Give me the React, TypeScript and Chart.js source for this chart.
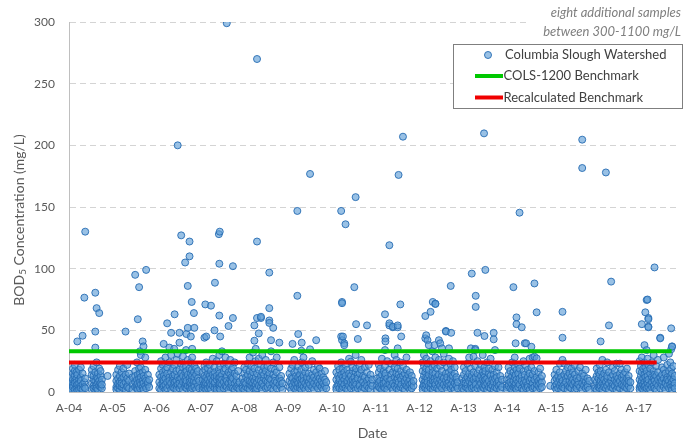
import { useEffect, useRef } from 'react';
import { Chart, registerables } from 'chart.js';

Chart.register(...registerables);

// ---------- labels ----------
const tickLabels = ['A-04', 'A-05', 'A-06', 'A-07', 'A-08', 'A-09', 'A-10', 'A-11', 'A-12', 'A-13', 'A-14', 'A-15', 'A-16', 'A-17'];
const firstYear = 2004;
const axisMaxYear = 2017.85;
const yTitleMain = 'BOD';
const yTitleSub = '5';
const yTitleRest = ' Concentration (mg/L)';
const xTitle = 'Date';
const noteLines = ['eight additional samples', 'between 300-1100 mg/L'];
const seriesLabels = ['Columbia Slough Watershed', 'COLS-1200 Benchmark', 'Recalculated Benchmark'];

// ---------- benchmarks ----------
const cols1200Value = 33;
const cols1200Range = [2004.0, 2017.75];
const recalcValue = 24;
const recalcRange = [2004.0, 2017.41];

// ---------- samples: each event = [offset within year, ...BOD5 values (mg/L)] ----------
const wy2004 = [
  [0.00, 5.6, 2], [0.05, 3, 8, 12, 1], [0.09, 6, 15, 19, 4, 10], [0.13, 2, 9, 17, 7, 13, 22],
  [0.17, 5, 11, 3, 16, 8], [0.19, 41, 14, 6, 1], [0.23, 4, 10, 18, 2, 7], [0.27, 12, 5, 9, 20, 3],
  [0.31, 45.6, 15, 6, 2], [0.35, 76.5, 8, 4], [0.37, 130, 11, 3], [0.52, 7, 14, 2, 18],
  [0.56, 5, 10, 21, 3, 13], [0.60, 80.5, 49, 36, 9, 16, 4, 1], [0.63, 68, 12, 6, 24, 3],
  [0.66, 8, 15, 2, 11], [0.69, 64, 19, 5, 9], [0.72, 4, 13, 7, 17], [0.75, 10, 3, 6], [0.88, 13],
];
const wy2005 = [
  [0.08, 4, 9, 14, 2], [0.12, 6, 18, 11, 3, 7], [0.16, 2, 13, 8, 21, 5], [0.20, 10, 4, 16, 7],
  [0.24, 3, 12, 19, 6], [0.29, 49, 8, 14, 2], [0.33, 5, 11, 22, 4], [0.37, 9, 3, 15], [0.45, 6, 12, 2],
  [0.51, 95, 8, 17, 4, 13], [0.55, 3, 10, 24, 6], [0.57, 59, 14, 7, 2], [0.60, 85, 11, 19, 5],
  [0.62, 33, 8, 3, 15], [0.64, 30, 12, 6, 20], [0.68, 41, 9, 4, 16], [0.70, 37, 7, 13, 2],
  [0.74, 28, 5, 11, 18], [0.76, 99, 9, 3], [0.80, 6, 14, 8], [0.83, 4, 10],
];
const wy2006 = [
  [0.06, 3, 8, 14], [0.10, 6, 12, 19, 2, 25], [0.14, 4, 10, 16, 22, 7], [0.16, 39, 13, 5, 9],
  [0.20, 2, 11, 18, 28, 6], [0.24, 55.7, 15, 8, 3, 20], [0.29, 36, 12, 5, 24, 9], [0.33, 48, 7, 16, 2, 30],
  [0.37, 10, 4, 19, 13], [0.40, 35, 6, 11, 22, 3], [0.41, 63, 14, 8], [0.45, 5, 17, 9, 26, 2],
  [0.48, 200, 12, 6, 31], [0.52, 48, 40, 10, 3, 18, 7], [0.56, 127, 15, 5, 23, 11], [0.60, 8, 2, 13, 20, 29],
  [0.65, 105, 6, 16, 10, 4], [0.67, 34, 12, 21, 7], [0.68, 47, 3, 9, 17], [0.71, 86, 52, 14, 5, 26],
  [0.75, 122, 110, 11, 4, 19, 8], [0.78, 45, 7, 15, 2, 24], [0.80, 73, 10, 18, 5], [0.81, 35, 13, 3, 28],
  [0.85, 64, 6, 16, 9], [0.86, 52, 12, 4, 21], [0.90, 8, 14, 2, 19], [0.94, 5, 11, 17], [0.97, 3, 9],
];
const wy2007 = [
  [0.05, 4, 10, 16, 2], [0.09, 44, 7, 13, 21, 3], [0.11, 71, 9, 18, 5], [0.13, 45, 12, 2, 24, 7],
  [0.17, 6, 15, 10, 3, 19], [0.21, 8, 4, 22, 13], [0.24, 70, 11, 17, 6, 2], [0.28, 5, 14, 9, 27],
  [0.32, 50, 3, 12, 20, 7], [0.33, 88.6, 16, 8], [0.37, 4, 10, 25, 13, 2], [0.42, 128, 18, 6, 11],
  [0.43, 104, 62, 3, 15, 30], [0.44, 130, 9, 5], [0.45, 45, 12, 21, 7, 2], [0.49, 6, 14, 10, 33],
  [0.53, 3, 17, 8, 23], [0.57, 11, 5, 19, 28], [0.60, 299, 13, 4, 9], [0.64, 53.5, 7, 16, 2, 22],
  [0.68, 10, 4, 14, 26], [0.71, 5, 12, 18, 8], [0.74, 102, 60, 3, 11, 20], [0.78, 7, 15, 2, 24],
  [0.82, 9, 4, 13], [0.86, 6, 17, 3], [0.89, 8, 2],
];
const wy2008 = [
  [-0.04, 5, 11, 3], [0.00, 8, 15, 2, 20], [0.04, 4, 12, 18, 7], [0.08, 10, 3, 23, 14],
  [0.12, 6, 17, 9, 2, 28], [0.16, 13, 5, 21, 8], [0.20, 3, 11, 16, 32, 7], [0.23, 54, 41.6, 9, 4, 19],
  [0.26, 12, 6, 25, 2, 35], [0.29, 270, 122, 60, 15, 8, 3], [0.33, 47.5, 10, 18, 5, 27],
  [0.38, 60, 61, 13, 4, 22, 9], [0.41, 7, 16, 2, 30], [0.45, 11, 5, 20, 14], [0.49, 3, 9, 17, 26],
  [0.53, 8, 13, 4, 21], [0.57, 96.8, 68, 58, 56, 6, 15, 11], [0.61, 42, 10, 3, 19, 33],
  [0.66, 52, 7, 14, 24, 2], [0.70, 5, 12, 18, 9], [0.74, 3, 16, 8, 28], [0.80, 40, 11, 6, 20],
  [0.84, 4, 13, 9], [0.87, 7, 2],
];
const wy2009 = [
  [0.03, 4, 9, 15], [0.07, 7, 2, 12, 19], [0.10, 39, 5, 11, 22], [0.14, 3, 8, 16, 26],
  [0.18, 10, 6, 13, 2], [0.21, 146.8, 78, 4, 17, 9], [0.23, 47, 12, 7, 21], [0.27, 5, 14, 3, 10],
  [0.30, 33.5, 8, 18, 2], [0.31, 40, 11, 6, 24], [0.35, 28, 4, 13, 9], [0.39, 7, 16, 2, 20],
  [0.43, 10, 5, 12], [0.47, 3, 8, 15, 22], [0.50, 176.8, 34.6, 6, 11], [0.55, 25, 9, 4, 14],
  [0.59, 7, 18, 2, 12], [0.64, 42, 5, 10, 16], [0.68, 3, 13, 8, 21], [0.72, 6, 11, 19],
  [0.76, 9, 4, 15], [0.80, 2, 12, 7], [0.84, 5, 10, 17], [0.87, 3, 8],
];
const wy2010 = [
  [0.10, 4, 10, 16, 2], [0.14, 7, 13, 21, 5], [0.17, 3, 9, 18, 11], [0.21, 146.8, 45, 6, 14, 24],
  [0.23, 73, 72, 42, 8, 2], [0.25, 45, 12, 4, 19], [0.28, 39.5, 38, 10, 16, 6], [0.31, 136, 3, 13, 22],
  [0.35, 7, 18, 9, 2], [0.39, 11, 5, 15, 27], [0.43, 8, 3, 24.6, 13], [0.47, 6, 17, 10, 20],
  [0.51, 85, 4, 12, 8], [0.54, 158, 16, 2, 30], [0.55, 55, 9, 6, 19], [0.59, 43, 14, 3, 11],
  [0.63, 7, 21, 5, 15], [0.67, 10, 2, 18, 26], [0.71, 4, 13, 8], [0.75, 12, 6, 20, 3],
  [0.80, 54, 9, 16, 5], [0.84, 11, 3, 22], [0.88, 7, 14, 2], [0.92, 5, 10],
];
const wy2011 = [
  [0.03, 5, 11, 2], [0.07, 8, 16, 4, 22], [0.10, 3, 12, 19, 9], [0.14, 6, 14, 27, 2],
  [0.18, 10, 4, 17, 7], [0.21, 63, 34, 13, 3, 21], [0.22, 43.5, 41, 8, 15], [0.26, 5, 11, 25, 2],
  [0.31, 119, 54, 55.7, 9, 18, 6], [0.35, 4, 14, 23, 10], [0.39, 52.5, 53, 7, 2, 16], [0.43, 12, 5, 20, 30],
  [0.47, 3, 9, 15, 26], [0.50, 52.5, 54, 35.4, 11, 6, 19], [0.52, 176, 8, 2, 14], [0.56, 71, 4, 12, 24],
  [0.58, 45, 10, 17, 6], [0.62, 207, 3, 13, 21], [0.66, 7, 15, 2, 9], [0.70, 11, 5, 18, 28],
  [0.74, 4, 14, 8], [0.78, 10, 2, 16, 6], [0.82, 7, 13, 3], [0.86, 5, 9],
];
const wy2012 = [
  [0.07, 4, 10, 17, 2, 24], [0.10, 7, 13, 21, 5, 30], [0.13, 61.6, 43.5, 9, 3, 16], [0.15, 46, 12, 6, 19, 27],
  [0.18, 42, 2, 11, 8, 23], [0.21, 38, 14, 5, 18], [0.25, 65, 10, 3, 25, 7], [0.29, 13, 6, 20, 33],
  [0.30, 73, 9, 2, 16], [0.34, 38, 11, 4, 22, 8], [0.36, 71.6, 71.4, 15, 6, 28], [0.40, 3, 12, 19, 9],
  [0.44, 42, 7, 14, 2, 26], [0.47, 39.5, 10, 5, 21], [0.51, 35.4, 13, 8, 3, 17], [0.55, 6, 24, 11, 31],
  [0.60, 49.5, 49, 4, 15, 9], [0.63, 12, 2, 20, 7], [0.67, 35.4, 8, 16, 5, 27], [0.71, 86, 3, 11, 22],
  [0.72, 48, 14, 6, 18], [0.76, 9, 4, 13, 25], [0.80, 7, 15, 2, 20], [0.84, 10, 5, 12], [0.87, 3, 8],
];
const wy2013 = [
  [-0.03, 5, 11, 3], [0.01, 8, 14, 2, 20], [0.05, 4, 10, 17, 7], [0.09, 12, 6, 23, 3],
  [0.13, 9, 15, 2, 28], [0.17, 35.4, 5, 11, 19], [0.19, 96, 7, 13, 3], [0.23, 28.6, 10, 4, 16],
  [0.27, 35, 34, 8, 21, 2], [0.28, 78, 69, 12, 6], [0.32, 48, 15, 3, 25], [0.36, 9, 5, 18, 11],
  [0.40, 7, 13, 2, 22], [0.44, 10, 4, 16, 30], [0.47, 209.7, 8, 14, 3], [0.48, 45.4, 12, 6, 20],
  [0.50, 99, 5, 17, 10], [0.54, 2, 11, 24, 7], [0.58, 9, 15, 4, 19], [0.62, 6, 13, 27, 3],
  [0.66, 10, 5, 18], [0.69, 48, 42.7, 8, 14, 2], [0.72, 34, 11, 4, 21], [0.76, 7, 16, 3, 12],
  [0.80, 9, 5, 20], [0.84, 6, 13, 2], [0.88, 4, 10],
];
const wy2014 = [
  [-0.01, 4, 10, 2], [0.03, 7, 14, 5, 20], [0.07, 3, 11, 17, 8], [0.11, 6, 13, 24, 2],
  [0.14, 85, 9, 4, 16], [0.17, 12, 5, 20, 28], [0.19, 39.5, 7, 14, 3], [0.21, 60.5, 55, 10, 2, 18],
  [0.25, 8, 4, 15, 22], [0.28, 145.4, 11, 6, 19], [0.33, 52.5, 3, 13, 9], [0.37, 7, 17, 2, 25],
  [0.40, 39.5, 10, 5, 14], [0.43, 39.5, 8, 3, 21], [0.47, 12, 6, 18, 4], [0.51, 9, 2, 15, 27],
  [0.55, 36.7, 5, 11, 20], [0.58, 28, 7, 14, 3], [0.62, 88, 28.6, 10, 4, 17], [0.67, 64.6, 27.3, 6, 12, 2],
  [0.71, 9, 16, 5], [0.75, 3, 11, 19, 7], [0.79, 8, 13, 4], [0.98, 5],
];
const wy2015 = [
  [0.08, 4, 9, 14], [0.12, 6, 11, 2, 18], [0.16, 3, 8, 13], [0.20, 10, 5, 16, 23],
  [0.23, 7, 2, 12], [0.26, 65, 44, 9, 4, 26], [0.30, 23, 6, 14, 3], [0.34, 11, 8, 17],
  [0.38, 5, 2, 13, 20], [0.42, 9, 4, 15], [0.46, 12, 7, 3, 19], [0.50, 6, 10, 16],
  [0.54, 2, 8, 14, 22], [0.58, 5, 11, 3], [0.62, 9, 17, 6], [0.66, 4, 12, 20],
  [0.71, 204.6, 181.6, 7, 2, 15], [0.75, 10, 5, 13], [0.79, 3, 8, 18], [0.83, 6, 11, 4], [0.87, 9, 2],
];
const wy2016 = [
  [0.00, 5, 10, 3], [0.04, 8, 13, 2, 19], [0.08, 4, 11, 16], [0.11, 7, 3, 14, 22],
  [0.13, 41, 9, 5, 17], [0.17, 26, 12, 2, 7], [0.21, 6, 15, 10, 4], [0.25, 178, 8, 18, 3],
  [0.28, 11, 5, 13, 24], [0.32, 54, 7, 2, 16], [0.37, 89.5, 9, 4, 12], [0.41, 6, 14, 20, 3],
  [0.45, 10, 5, 17], [0.49, 8, 2, 13, 23], [0.53, 4, 11, 7], [0.57, 23, 9, 15, 3],
  [0.61, 6, 12, 18], [0.65, 2, 10, 5, 14], [0.69, 8, 16, 4], [0.73, 11, 3, 7, 19],
  [0.77, 5, 13, 9], [0.81, 3, 8],
];
const wy2017 = [
  [0.02, 4, 10, 17, 2, 25], [0.05, 7, 13, 21, 5], [0.07, 55, 3, 9, 16, 28], [0.10, 11, 6, 19, 2],
  [0.13, 38, 8, 14, 4, 24], [0.15, 64.6, 12, 5, 20], [0.18, 34, 74.6, 9, 3, 17], [0.20, 75, 7, 13, 27],
  [0.22, 60, 59, 53, 52.5, 10, 4, 22], [0.26, 6, 15, 2, 19], [0.30, 12, 8, 24, 4], [0.34, 5, 11, 17, 30],
  [0.36, 101, 9, 3, 14], [0.40, 7, 13, 21, 2], [0.44, 10, 5, 16, 26], [0.49, 44, 43.5, 8, 3, 12],
  [0.53, 6, 14, 20, 9], [0.57, 4, 11, 18, 28], [0.61, 8, 2, 15, 7], [0.65, 12, 5, 22, 10],
  [0.69, 3, 9, 17, 31], [0.72, 6, 13, 24], [0.74, 51.6, 34.6, 11, 4, 19], [0.76, 37, 36.7, 8, 2, 15],
  [0.79, 10, 5, 21], [0.82, 7, 13, 3],
];

const samplingYears: [number, number[][]][] = [
  [2004, wy2004], [2005, wy2005], [2006, wy2006], [2007, wy2007], [2008, wy2008],
  [2009, wy2009], [2010, wy2010], [2011, wy2011], [2012, wy2012], [2013, wy2013],
  [2014, wy2014], [2015, wy2015], [2016, wy2016], [2017, wy2017],
];

// ---------- styles ----------
const FONT = 'Lato, "Open Sans", "DejaVu Sans", sans-serif';
const pointFill = 'rgba(91,155,213,0.62)';
const pointBorder = 'rgba(38,108,178,0.9)';
const greenColor = '#00C800';
const redColor = '#F00000';

function buildPoints() {
  const pts: { x: number; y: number }[] = [];
  for (const [year, events] of samplingYears) {
    for (const ev of events) {
      const x = year + ev[0];
      for (let i = 1; i < ev.length; i++) pts.push({ x, y: ev[i] });
    }
  }
  return pts;
}

const overlayPlugin = {
  id: 'overlay',
  afterDraw(chart: any) {
    const ctx: CanvasRenderingContext2D = chart.ctx;
    // y axis title with subscript
    ctx.save();
    ctx.fillStyle = '#595959';
    ctx.textBaseline = 'middle';
    ctx.textAlign = 'left';
    ctx.translate(19, 220);
    ctx.rotate(-Math.PI / 2);
    const big = `14px ${FONT}`;
    const small = `10px ${FONT}`;
    ctx.font = big;
    const w1 = ctx.measureText(yTitleMain).width;
    const w3 = ctx.measureText(yTitleRest).width;
    ctx.font = small;
    const w2 = ctx.measureText(yTitleSub).width;
    let x = -(w1 + w2 + w3) / 2;
    ctx.font = big;
    ctx.fillText(yTitleMain, x, 0);
    x += w1;
    ctx.font = small;
    ctx.fillText(yTitleSub, x, 4);
    x += w2;
    ctx.font = big;
    ctx.fillText(yTitleRest, x, 0);
    ctx.restore();

    // note (top right)
    ctx.save();
    ctx.fillStyle = '#ffffff';
    ctx.fillRect(528, 2, 156, 39);
    ctx.fillStyle = '#7F7F7F';
    ctx.font = `italic 13px ${FONT}`;
    ctx.textAlign = 'right';
    ctx.textBaseline = 'middle';
    ctx.fillText(noteLines[0], 681, 13);
    ctx.fillText(noteLines[1], 681, 32);
    ctx.restore();

    // legend box
    ctx.save();
    ctx.fillStyle = '#ffffff';
    ctx.fillRect(453, 44, 229, 64);
    ctx.strokeStyle = '#7F7F7F';
    ctx.lineWidth = 1;
    ctx.strokeRect(453.5, 44.5, 229, 64);
    const ds = chart.data.datasets;
    ctx.beginPath();
    ctx.arc(488, 55, 3.5, 0, Math.PI * 2);
    ctx.fillStyle = ds[0].backgroundColor;
    ctx.fill();
    ctx.strokeStyle = ds[0].borderColor;
    ctx.lineWidth = 1;
    ctx.stroke();
    ctx.lineWidth = 4;
    ctx.strokeStyle = ds[1].borderColor;
    ctx.beginPath(); ctx.moveTo(475, 76); ctx.lineTo(503, 76); ctx.stroke();
    ctx.strokeStyle = ds[2].borderColor;
    ctx.beginPath(); ctx.moveTo(475, 97.5); ctx.lineTo(503, 97.5); ctx.stroke();
    ctx.fillStyle = '#404040';
    ctx.font = `13px ${FONT}`;
    ctx.textAlign = 'left';
    ctx.textBaseline = 'middle';
    ctx.fillText(ds[0].label, 505, 55);
    ctx.fillText(ds[1].label, 503.5, 76);
    ctx.fillText(ds[2].label, 503.5, 97.5);
    ctx.restore();
  },
};

export default function App() {
  const ref = useRef<HTMLCanvasElement | null>(null);
  useEffect(() => {
    document.body.style.margin = '0';
    const canvas = ref.current;
    if (!canvas) return;
    const chart = new Chart(canvas, {
      type: 'scatter',
      data: {
        datasets: [
          {
            label: seriesLabels[0],
            data: buildPoints(),
            backgroundColor: pointFill,
            borderColor: pointBorder,
            borderWidth: 1,
            pointRadius: 3.5,
            order: 2,
          },
          {
            label: seriesLabels[1],
            data: [
              { x: cols1200Range[0], y: cols1200Value },
              { x: cols1200Range[1], y: cols1200Value },
            ],
            showLine: true,
            borderColor: greenColor,
            backgroundColor: greenColor,
            borderWidth: 4,
            pointRadius: 0,
            order: 1,
          },
          {
            label: seriesLabels[2],
            data: [
              { x: recalcRange[0], y: recalcValue },
              { x: recalcRange[1], y: recalcValue },
            ],
            showLine: true,
            borderColor: redColor,
            backgroundColor: redColor,
            borderWidth: 4,
            pointRadius: 0,
            order: 0,
          },
        ],
      },
      options: {
        responsive: false,
        animation: false,
        events: [],
        layout: { padding: { top: 22, right: 8, bottom: 0, left: 0 } },
        plugins: { legend: { display: false }, tooltip: { enabled: false } },
        scales: {
          x: {
            type: 'linear',
            min: firstYear,
            max: axisMaxYear,
            grid: { display: false, drawTicks: false },
            border: { display: true, color: '#BFBFBF', width: 1 },
            ticks: {
              stepSize: 1,
              includeBounds: false,
              autoSkip: false,
              maxRotation: 0,
              padding: 9,
              color: '#595959',
              font: { family: FONT, size: 12 },
              callback: (v: any) => tickLabels[Math.round(Number(v)) - firstYear] ?? '',
            },
            title: {
              display: true,
              text: xTitle,
              color: '#595959',
              font: { family: FONT, size: 14 },
              padding: { top: 0, bottom: 3 },
            },
            afterFit: (s: any) => { s.height = 53; },
          },
          y: {
            min: 0,
            max: 300,
            grid: { color: '#D4D4D4', drawTicks: false },
            border: { display: true, color: '#BFBFBF', width: 1, dash: [6, 4] },
            ticks: {
              stepSize: 50,
              padding: 14,
              color: '#595959',
              font: { family: FONT, size: 12 },
            },
            afterFit: (s: any) => { s.width = 69; },
          },
        },
      },
      plugins: [overlayPlugin],
    } as any);
    return () => chart.destroy();
  }, []);
  return (
    <canvas
      ref={ref}
      width={684}
      height={445}
      style={{ position: 'fixed', left: 0, top: 0, width: 684, height: 445 }}
    />
  );
}
